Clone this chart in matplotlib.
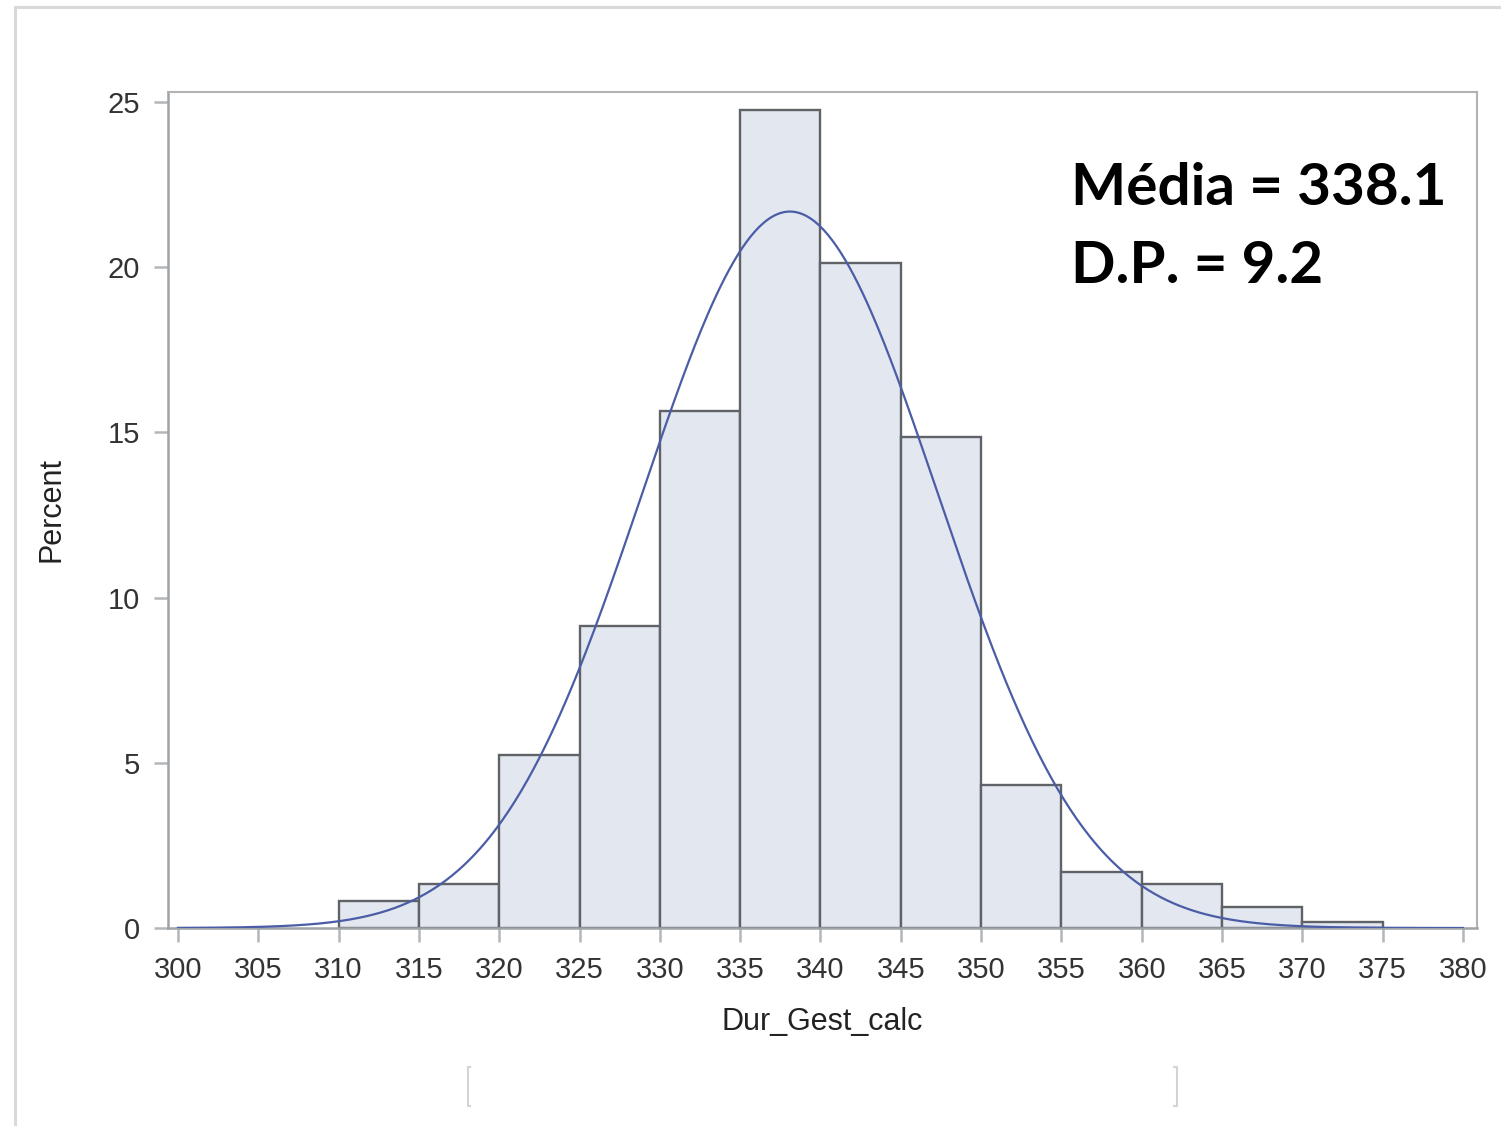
import numpy as np
import matplotlib
matplotlib.use("Agg")
import matplotlib.pyplot as plt
from matplotlib.lines import Line2D

# Data
bin_edges = [310, 315, 320, 325, 330, 335, 340, 345, 350, 355, 360, 365, 370, 375]
percents = [0.83, 1.33, 5.24, 9.15, 15.65, 24.76, 20.14, 14.85, 4.33, 1.70, 1.32, 0.64, 0.19]
mean_val = 338.1
sd_val = 9.2
x_ticks = list(range(300, 385, 5))
y_ticks = [0, 5, 10, 15, 20, 25]
x_label = "Dur_Gest_calc"
y_label = "Percent"
stat_lines = ["Média = 338.1", "D.P. = 9.2"]

W, H = 1501, 1126
fig = plt.figure(figsize=(W / 100, H / 100), dpi=100)
ax = fig.add_axes([168 / W, 1 - 928 / H, (1477 - 168) / W, (928 - 92) / H])

tick_font = ['Liberation Sans Narrow', 'Liberation Sans', 'DejaVu Sans']

lefts = bin_edges[:-1]
widths = np.diff(bin_edges)
ax.bar(lefts, percents, width=widths, align='edge', color='#e2e7f0',
       edgecolor='#5f6266', linewidth=1.7, zorder=2)

xs = np.linspace(300, 380, 600)
bw = 5
ys = 100 * bw / (sd_val * np.sqrt(2 * np.pi)) * np.exp(-0.5 * ((xs - mean_val) / sd_val) ** 2)
ax.plot(xs, ys, color='#4a5da6', linewidth=1.6, zorder=3)

ax.set_xlim(299.38, 380.87)
ax.set_ylim(0, 25.30)
ax.set_xticks(x_ticks)
ax.set_yticks(y_ticks)
ax.set_xticklabels([str(v) for v in x_ticks], family=tick_font, fontsize=21, color='#333333')
ax.set_yticklabels([str(v) for v in y_ticks], family=tick_font, fontsize=21, color='#333333')
ax.tick_params(axis='x', direction='out', length=10, width=1.8, color='#b4b7ba', pad=10)
ax.tick_params(axis='y', direction='out', length=10, width=1.8, color='#b4b7ba', pad=10)

for side in ['top', 'right']:
    ax.spines[side].set_color('#b0b3b6')
    ax.spines[side].set_linewidth(1.5)
ax.spines['left'].set_color('#9fa3a6')
ax.spines['left'].set_linewidth(1.8)
ax.spines['bottom'].set_color('#9fa3a6')
ax.spines['bottom'].set_linewidth(1.8)

ax.set_xlabel(x_label, family=tick_font, fontsize=22, color='#222222', labelpad=17)
ax.set_ylabel(y_label, family=tick_font, fontsize=22, color='#222222', labelpad=30)

# Stats text
fig.text(1071 / W, 1 - 205 / H, stat_lines[0], fontsize=42, fontweight='bold',
         family=['Lato', 'Open Sans', 'DejaVu Sans'], color='black', va='baseline', ha='left')
fig.text(1071 / W, 1 - 283 / H, stat_lines[1], fontsize=42, fontweight='bold',
         family=['Lato', 'Open Sans', 'DejaVu Sans'], color='black', va='baseline', ha='left')

# Figure frame lines (top and left)
border_col = '#d9d9d9'
fig.add_artist(Line2D([15 / W, 1.0], [1 - 7 / H, 1 - 7 / H], color=border_col, linewidth=2.2,
                      transform=fig.transFigure))
fig.add_artist(Line2D([15 / W, 15 / W], [1 - 7 / H, 0.0], color=border_col, linewidth=2.2,
                      transform=fig.transFigure))

# Bottom brackets
bcol = '#d4d4d4'
y0, y1 = 1 - 1067 / H, 1 - 1106 / H
fig.add_artist(Line2D([470 / W, 468 / W, 468 / W, 470 / W], [y0, y0, y1, y1], color=bcol,
                      linewidth=1.5, transform=fig.transFigure))
fig.add_artist(Line2D([1174 / W, 1177 / W, 1177 / W, 1174 / W], [y0, y0, y1, y1], color=bcol,
                      linewidth=1.5, transform=fig.transFigure))

fig.savefig("out.png", dpi=100)
